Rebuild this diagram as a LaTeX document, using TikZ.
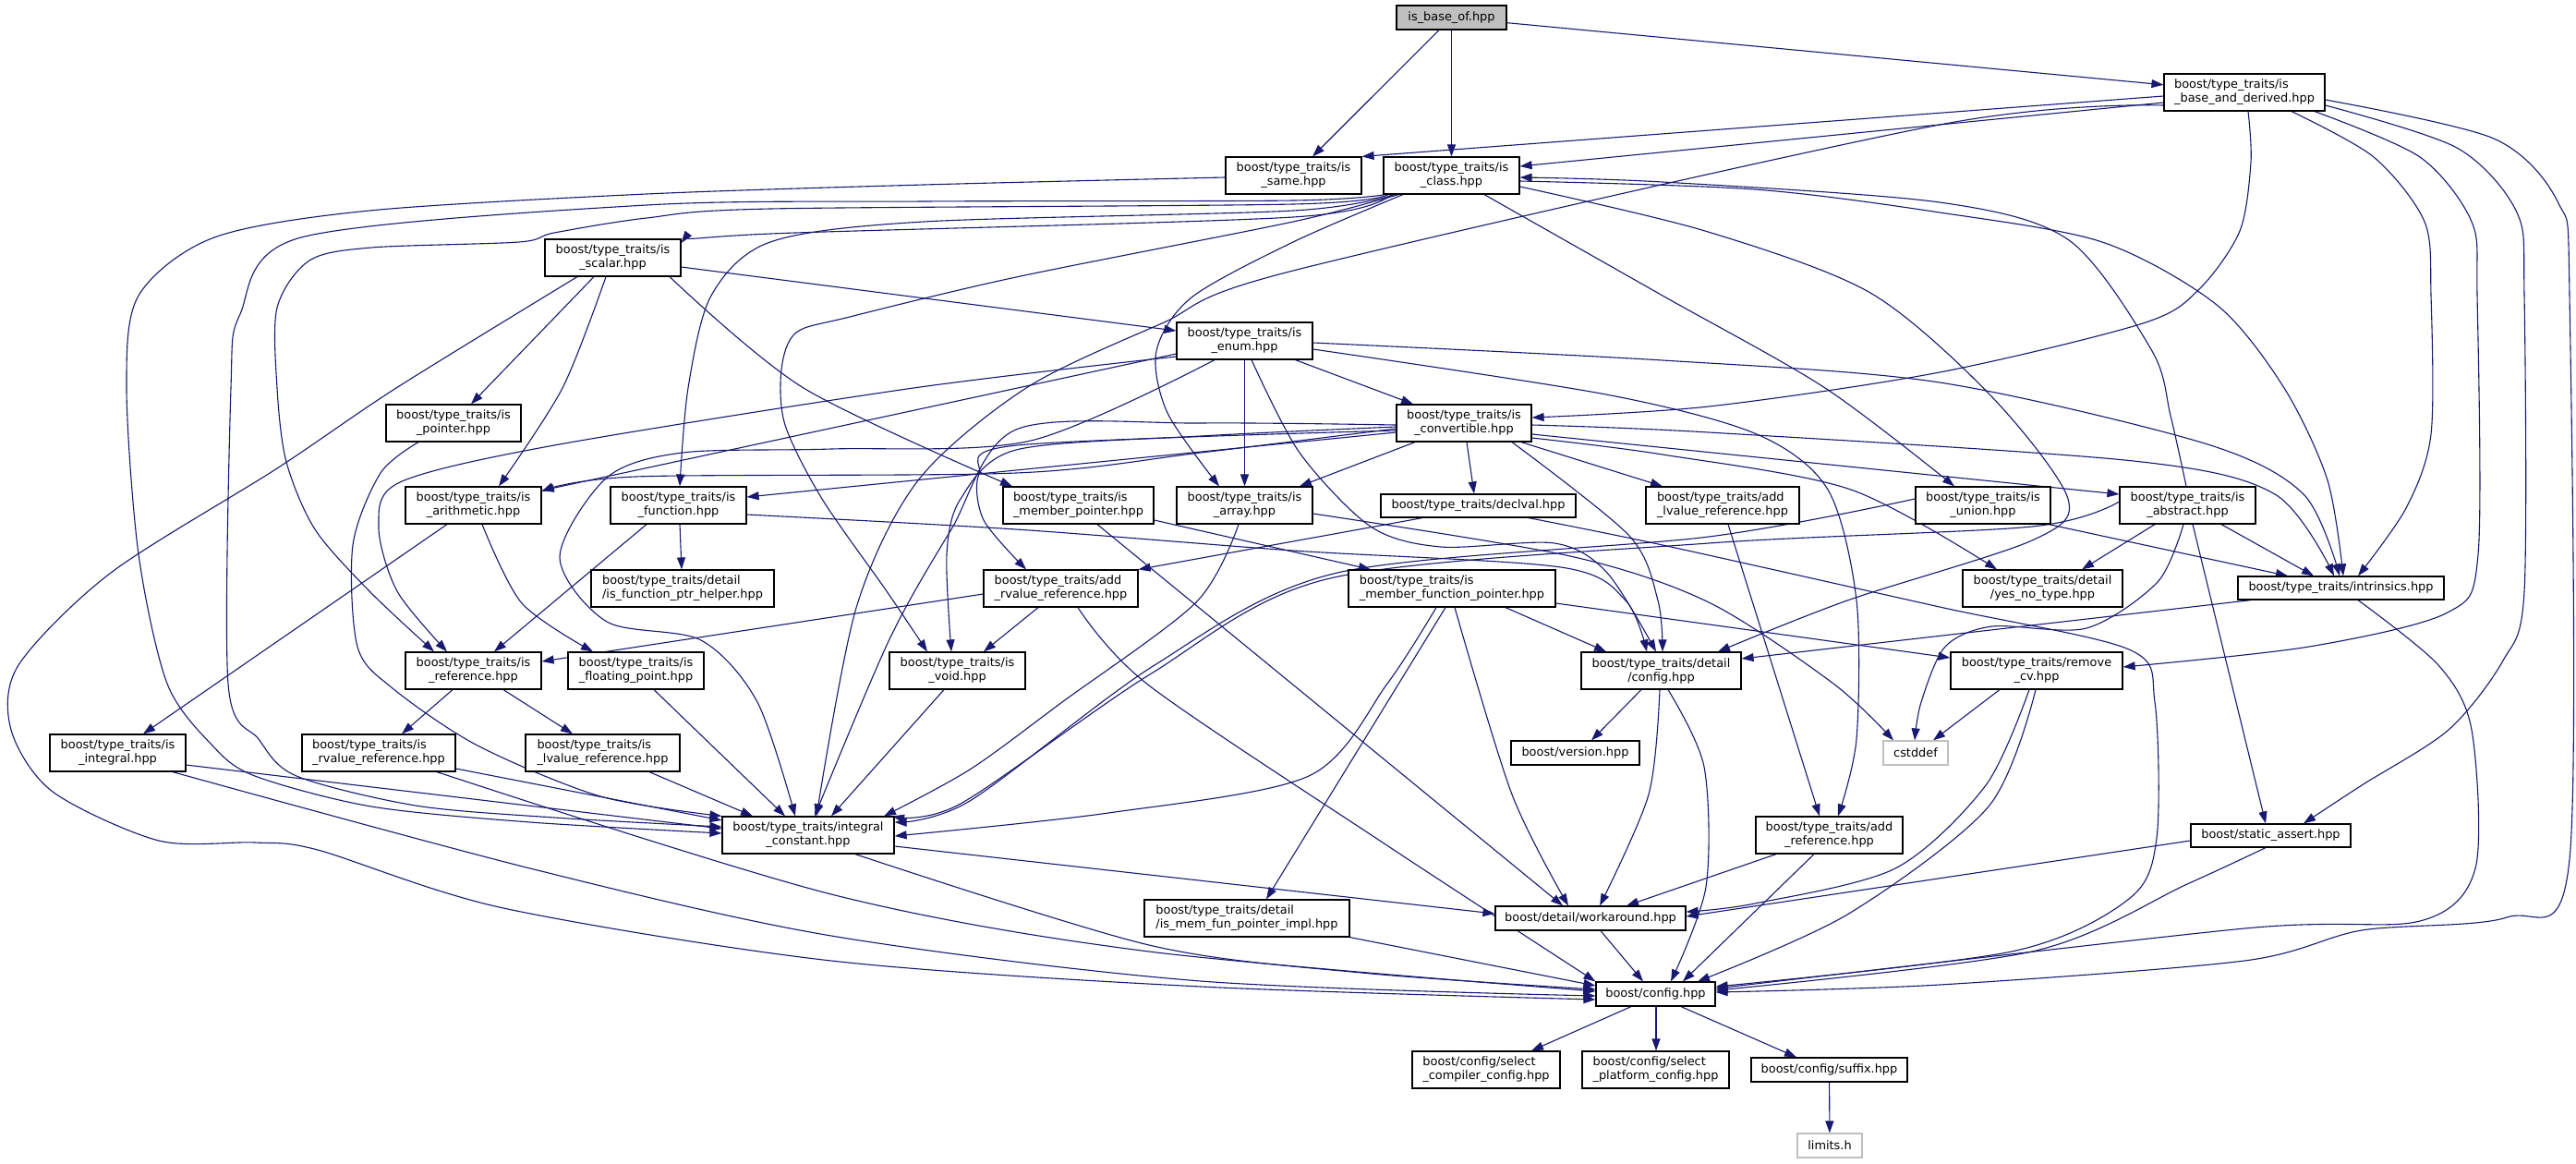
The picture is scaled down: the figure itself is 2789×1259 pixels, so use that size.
\documentclass[tikz,border=0pt]{standalone}
\usepackage{fontspec}
\setmainfont{DejaVu Sans}
\usetikzlibrary{arrows.meta}
\definecolor{edgecol}{HTML}{191970}
\definecolor{graybox}{HTML}{BFBFBF}
\newcommand\nfont{\fontsize{12.9}{15}\selectfont}
\pgfdeclarelayer{edgelayer}
\pgfsetlayers{edgelayer,main}
\tikzset{
  nbox/.style={draw=black, line width=1.2pt, fill=white, inner sep=0pt, font=\nfont, align=center, text=black},
  lbox/.style={nbox, align=left},
  twol/.style={minimum height=40pt},
  onel/.style={minimum height=26pt},
  edge/.style={draw=edgecol, line width=1.1pt, -{Triangle[length=13pt,width=9pt]}},
}
\begin{document}
\begin{tikzpicture}[x=1pt,y=-1pt]
\useasboundingbox (0,0) rectangle (2789,1259);
\begin{pgfonlayer}{edgelayer}
\fill[white] (0,0) rectangle (2789,1259);
\end{pgfonlayer}
% ---------- nodes ----------
\node[nbox,onel,fill=graybox,minimum width=119pt] (baseof) at (1571.5,19) {is\_base\_of.hpp};
\node[lbox,twol,minimum width=174pt] (bad) at (2430,100) {boost/type\_traits/is\\\_base\_and\_derived.hpp};
\node[nbox,twol,minimum width=147pt] (same) at (1400.5,190) {boost/type\_traits/is\\\_same.hpp};
\node[nbox,twol,minimum width=147pt] (class) at (1571.5,190) {boost/type\_traits/is\\\_class.hpp};
\node[nbox,twol,minimum width=147pt] (scalar) at (663.5,279) {boost/type\_traits/is\\\_scalar.hpp};
\node[nbox,twol,minimum width=147pt] (enum) at (1347.5,369) {boost/type\_traits/is\\\_enum.hpp};
\node[nbox,twol,minimum width=146pt] (pointer) at (491,458) {boost/type\_traits/is\\\_pointer.hpp};
\node[nbox,twol,minimum width=146pt] (conv) at (1585,458) {boost/type\_traits/is\\\_convertible.hpp};
\node[nbox,twol,minimum width=147pt] (arith) at (512.5,547) {boost/type\_traits/is\\\_arithmetic.hpp};
\node[nbox,twol,minimum width=147pt] (func) at (734.5,547) {boost/type\_traits/is\\\_function.hpp};
\node[lbox,twol,minimum width=163pt] (mptr) at (1167.5,547) {boost/type\_traits/is\\\_member\_pointer.hpp};
\node[nbox,twol,minimum width=147pt] (array) at (1347.5,547) {boost/type\_traits/is\\\_array.hpp};
\node[nbox,minimum height=25pt,minimum width=211pt] (declval) at (1600.5,547.5) {boost/type\_traits/declval.hpp};
\node[lbox,twol,minimum width=166pt] (addl) at (1865,547) {boost/type\_traits/add\\\_lvalue\_reference.hpp};
\node[nbox,twol,minimum width=146pt] (union) at (2147,547) {boost/type\_traits/is\\\_union.hpp};
\node[nbox,twol,minimum width=147pt] (abstract) at (2368.5,547) {boost/type\_traits/is\\\_abstract.hpp};
\node[lbox,twol,minimum width=198pt] (fph) at (739,637) {boost/type\_traits/detail\\/is\_function\_ptr\_helper.hpp};
\node[lbox,twol,minimum width=167pt] (addr) at (1148.5,637) {boost/type\_traits/add\\\_rvalue\_reference.hpp};
\node[lbox,twol,minimum width=224pt] (mfp) at (1572,637) {boost/type\_traits/is\\\_member\_function\_pointer.hpp};
\node[nbox,twol,minimum width=173pt] (yesno) at (2211.5,637) {boost/type\_traits/detail\\/yes\_no\_type.hpp};
\node[nbox,minimum height=25pt,minimum width=223pt] (intr) at (2534.5,636.5) {boost/type\_traits/intrinsics.hpp};
\node[nbox,twol,minimum width=147pt] (ref) at (512.5,726) {boost/type\_traits/is\\\_reference.hpp};
\node[nbox,twol,minimum width=147pt] (flt) at (688.5,726) {boost/type\_traits/is\\\_floating\_point.hpp};
\node[nbox,twol,minimum width=147pt] (void) at (1036.5,726) {boost/type\_traits/is\\\_void.hpp};
\node[nbox,twol,minimum width=173pt] (dconf) at (1798.5,726) {boost/type\_traits/detail\\/config.hpp};
\node[nbox,twol,minimum width=186pt] (rcv) at (2205,726) {boost/type\_traits/remove\\\_cv.hpp};
\node[nbox,twol,minimum width=147pt] (integ) at (127.5,815) {boost/type\_traits/is\\\_integral.hpp};
\node[lbox,twol,minimum width=166pt] (rref) at (410,815) {boost/type\_traits/is\\\_rvalue\_reference.hpp};
\node[lbox,twol,minimum width=167pt] (lref) at (652.5,815) {boost/type\_traits/is\\\_lvalue\_reference.hpp};
\node[nbox,onel,minimum width=139pt] (version) at (1705.5,815) {boost/version.hpp};
\node[nbox,onel,draw=graybox,minimum width=70pt] (cstddef) at (2074,815) {cstddef};
\node[nbox,twol,minimum width=186pt] (ic) at (875,904) {boost/type\_traits/integral\\\_constant.hpp};
\node[nbox,twol,minimum width=159pt] (addref) at (1980.5,904) {boost/type\_traits/add\\\_reference.hpp};
\node[nbox,minimum height=25pt,minimum width=173pt] (sa) at (2458.5,904.5) {boost/static\_assert.hpp};
\node[lbox,twol,minimum width=222pt] (mfpi) at (1350,994) {boost/type\_traits/detail\\/is\_mem\_fun\_pointer\_impl.hpp};
\node[nbox,onel,minimum width=206pt] (wa) at (1722,994) {boost/detail/workaround.hpp};
\node[nbox,onel,minimum width=129pt] (config) at (1792.5,1076) {boost/config.hpp};
\node[lbox,twol,minimum width=160pt] (selc) at (1609,1158) {boost/config/select\\\_compiler\_config.hpp};
\node[lbox,twol,minimum width=159pt] (selp) at (1792.5,1158) {boost/config/select\\\_platform\_config.hpp};
\node[nbox,onel,minimum width=169pt] (suffix) at (1980.5,1158) {boost/config/suffix.hpp};
\node[nbox,onel,draw=graybox,minimum width=70pt] (limits) at (1981,1240) {limits.h};
% ---------- edges ----------
\begin{pgfonlayer}{edgelayer}
% is_base_of
\draw[edge] (baseof) -- (same);
\draw[edge] (baseof) -- (class);
\draw[edge] (baseof) -- (bad);
% is_base_and_derived
\draw[edge] (bad.west |- 0,104) -- (same.north east);
\draw[edge] (bad.west |- 0,111) -- (class.east |- 0,180);
\draw[edge] plot[smooth,tension=0.5] coordinates {(bad.west |- 0,114) (2100,135) (1400,293) (1258,350) (1111,420) (994,520) (927,658) (ic.north -| 884,0)};
\draw[edge] plot[smooth,tension=0.5] coordinates {(bad.south -| 2434,0) (2437,175) (2425,250) (2381,313) (2320,350) (2100,403) (1850,440) (conv.east |- 0,452)};
\draw[edge] plot[smooth,tension=0.5] coordinates {(bad.south -| 2481,0) (2570,170) (2625,240) (2632,320) (2632,470) (2605,550) (intr.north -| 2553,0)};
\draw[edge] plot[smooth,tension=0.5] coordinates {(bad.south -| 2506,0) (2620,170) (2676,240) (2682,320) (2683,600) (2650,663) (2500,700) (rcv.east |- 0,722)};
\draw[edge] plot[smooth,tension=0.5] coordinates {(bad.east |- 0,114) (2660,160) (2725,230) (2733,320) (2733,640) (2710,715) (2651,790) (2557,850) (sa.north -| 2494,0)};
\draw[edge] plot[smooth,tension=0.5] coordinates {(bad.east |- 0,108) (2700,150) (2770,220) (2782,320) (2782,930) (2714,993) (2557,1007) (2430,1040) (2100,1066) (config.east |- 0,1074)};
% is_same
\draw[edge] plot[smooth,tension=0.5] coordinates {(same.west |- 0,192) (1000,200) (700,210) (400,228) (232,257) (150,320) (137,420) (150,600) (181,740) (230,807) (276,840) (402,873) (574,890) (ic.west |- 0,902)};
% is_class
\draw[edge] plot[smooth,tension=0.5] coordinates {(class.south -| 1500,0) (1400,217) (1000,218) (700,222) (326,257) (260,340) (250,420) (247,740) (280,800) (321,840) (450,872) (600,885) (ic.west |- 0,895)};
\draw[edge] plot[smooth,tension=0.5] coordinates {(class.south -| 1503,0) (1400,221) (834,226) (700,236) (600,252) (562,262) (402,268) (335,282) (300,333) (300,420) (310,500) (341,573) (400,640) (ref.north -| 470,0)};
\draw[edge] plot[smooth,tension=0.5] coordinates {(class.south -| 1506,0) (1400,235) (834,253) (scalar.east |- 0,263)};
\draw[edge] plot[smooth,tension=0.5] coordinates {(class.south -| 1510,0) (1400,228) (1000,240) (834,262) (770,320) (745,420) (func.north -| 736,0)};
\draw[edge] plot[smooth,tension=0.5] coordinates {(class.south -| 1514,0) (1400,240) (1100,300) (920,343) (862,360) (846,400) (850,460) (890,540) (960,640) (void.north -| 1004,0)};
\draw[edge] plot[smooth,tension=0.5] coordinates {(class.south -| 1519,0) (1400,262) (1290,322) (1252,380) (1264,447) (array.north -| 1320,0)};
\draw[edge] plot[smooth,tension=0.5] coordinates {(class.south -| 1607,0) (1800,320) (1976,420) (union.north -| 2116,0)};
\draw[edge] plot[smooth,tension=0.5] coordinates {(class.east |- 0,202) (1846,250) (2025,317) (2157,430) (2239,540) (2200,585) (2000,650) (dconf.north -| 1860,0)};
\draw[edge] plot[smooth,tension=0.5] coordinates {(class.east |- 0,196) (1900,205) (2100,230) (2276,262) (2400,330) (2473,420) (2520,520) (intr.north -| 2537,0)};
% is_scalar
\draw[edge] plot[smooth,tension=0.5] coordinates {(scalar.south -| 656,0) (609,420) (arith.north -| 540,0)};
\draw[edge] (scalar.south -| 643,0) -- (pointer.north -| 510,0);
\draw[edge] (scalar.east |- 0,289) -- (enum.west |- 0,358);
\draw[edge] plot[smooth,tension=0.5] coordinates {(scalar.south -| 725,0) (870,420) (mptr.north -| 1096,0)};
\draw[edge] plot[smooth,tension=0.5] coordinates {(scalar.south -| 625,0) (429,420) (300,507) (120,620) (20,720) (12,790) (57,857) (172,910) (276,912) (344,920) (545,983) (900,1040) (1300,1068) (config.west |- 0,1082)};
% is_enum
\draw[edge] (enum.west |- 0,383) -- (arith.east |- 0,531);
\draw[edge] plot[smooth,tension=0.5] coordinates {(enum.west |- 0,386) (989,420) (600,482) (433,522) (410,570) (430,640) (ref.north -| 484,0)};
\draw[edge] (enum) -- (conv);
\draw[edge] (enum) -- (array);
\draw[edge] plot[smooth,tension=0.5] coordinates {(enum.east |- 0,378) (1739,427) (1902,470) (1979,530) (2010,650) (2010,800) (addref.north -| 1990,0)};
\draw[edge] plot[smooth,tension=0.5] coordinates {(enum.south -| 1355,0) (1407,490) (1484,570) (1560,592) (1683,588) (1740,620) (dconf.north -| 1793,0)};
\draw[edge] plot[smooth,tension=0.5] coordinates {(enum.east |- 0,371) (1800,390) (2100,414) (2387,480) (2494,535) (intr.north -| 2533,0)};
\draw[edge] plot[smooth,tension=0.5] coordinates {(enum.south -| 1315,0) (1116,477) (900,486) (739,490) (657,517) (606,603) (657,673) (759,693) (820,760) (ic.north -| 861,0)};
% is_convertible
\draw[edge] plot[smooth,tension=0.5] coordinates {(conv.east |- 0,460) (1850,468) (2310,499) (2463,535) (intr.north -| 2527,0)};
\draw[edge] (conv.east |- 0,470) -- (abstract.west |- 0,535);
\draw[edge] plot[smooth,tension=0.5] coordinates {(conv.east |- 0,474) (1800,492) (2004,530) (yesno.north -| 2162,0)};
\draw[edge] (conv.south -| 1647,0) -- (addl.north -| 1800,0);
\draw[edge] plot[smooth,tension=0.5] coordinates {(conv.south -| 1637,0) (1764,580) (1795,650) (dconf.north -| 1800,0)};
\draw[edge] (conv.south -| 1588,0) -- (declval.north -| 1596,0);
\draw[edge] (conv.south -| 1532,0) -- (array.north -| 1407,0);
\draw[edge] plot[smooth,tension=0.5] coordinates {(conv.west |- 0,462) (1300,472) (1100,487) (1040,540) (1025,600) (void.north -| 1030,0)};
\draw[edge] plot[smooth,tension=0.5] coordinates {(conv.west |- 0,466) (1101,482) (1060,513) (1065,563) (addr.north -| 1111,0)};
\draw[edge] (conv.west |- 0,468) -- (func.east |- 0,538);
\draw[edge] plot[smooth,tension=0.5] coordinates {(conv.west |- 0,464) (1300,490) (1100,512) (688,516) (arith.east |- 0,532)};
\draw[edge] plot[smooth,tension=0.5] coordinates {(conv.west |- 0,460) (1300,458) (1100,465) (1030,573) (963,692) (ic.north -| 882,0)};
% is_pointer
\draw[edge] plot[smooth,tension=0.5] coordinates {(pointer.south -| 453,0) (412,512) (382,590) (387,700) (425,745) (517,807) (650,862) (ic.north west)};
% is_arithmetic
\draw[edge] (arith.south -| 484,0) -- (integ.north -| 155,0);
\draw[edge] plot[smooth,tension=0.5] coordinates {(arith.south -| 522,0) (565,653) (flt.north -| 642,0)};
% is_function
\draw[edge] (func.south -| 700,0) -- (ref.north -| 535,0);
\draw[edge] (func.south -| 736,0) -- (fph.north -| 738,0);
\draw[edge] plot[smooth,tension=0.5] coordinates {(func.east |- 0,557) (1100,573) (1400,596) (1690,614) (1760,650) (dconf.north -| 1783,0)};
% is_member_pointer
\draw[edge] (mptr.south -| 1188,0) -- (wa.north -| 1692,0);
\draw[edge] (mptr.east |- 0,563) -- (mfp.north -| 1484,0);
% is_array
\draw[edge] plot[smooth,tension=0.5] coordinates {(array.south -| 1341,0) (1295,652) (1150,760) (1050,833) (ic.north -| 957,0)};
\draw[edge] plot[smooth,tension=0.5] coordinates {(array.east |- 0,556) (1700,602) (1850,652) (1985,740) (cstddef.north -| 2050,0)};
% declval
\draw[edge] (declval.south -| 1540,0) -- (addr.north east);
\draw[edge] plot[smooth,tension=0.5] coordinates {(declval.south -| 1655,0) (1800,590) (2100,657) (2305,703) (2333,760) (2335,907) (2305,973) (2178,1030) (config.east |- 0,1068)};
% add_lvalue_reference
\draw[edge] (addl.south -| 1871,0) -- (addref.north -| 1970,0);
% is_union
\draw[edge] (union.south -| 2218,0) -- (intr.north -| 2477,0);
\draw[edge] plot[smooth,tension=0.5] coordinates {(union.west |- 0,540) (1850,581) (1448,620) (1250,720) (1050,867) (ic.east |- 0,890)};
% is_abstract
\draw[edge] plot[smooth,tension=0.5] coordinates {(abstract.north -| 2367,0) (2350,450) (2330,380) (2240,260) (2100,219) (1800,197) (class.east |- 0,192)};
\draw[edge] plot[smooth,tension=0.5] coordinates {(abstract.west |- 0,543) (2200,570) (1850,588) (1440,626) (1245,730) (1040,870) (ic.north -| 966,0)};
\draw[edge] (abstract.south -| 2333,0) -- (yesno.north -| 2254,0);
\draw[edge] (abstract.south -| 2405,0) -- (intr.north -| 2505,0);
\draw[edge] (abstract.south -| 2374,0) -- (sa.north -| 2453,0);
\draw[edge] plot[smooth,tension=0.5] coordinates {(abstract.south -| 2364,0) (2336,630) (2259,680) (2157,678) (2106,700) (2080,760) (cstddef.north -| 2073,0)};
% is_member_function_pointer
\draw[edge] (mfp.south -| 1630,0) -- (dconf.north -| 1739,0);
\draw[edge] (mfp.east |- 0,653) -- (rcv.west |- 0,712);
\draw[edge] plot[smooth,tension=0.5] coordinates {(mfp.south -| 1575,0) (1637,860) (wa.north -| 1698,0)};
\draw[edge] (mfp.south -| 1565,0) -- (mfpi.north -| 1371,0);
\draw[edge] plot[smooth,tension=0.5] coordinates {(mfp.south -| 1555,0) (1502,740) (1417,840) (1200,880) (ic.east |- 0,905)};
% add_rvalue_reference
\draw[edge] (addr.south -| 1124,0) -- (void.north -| 1065,0);
\draw[edge] (addr.west |- 0,643) -- (ref.east |- 0,716);
\draw[edge] plot[smooth,tension=0.5] coordinates {(addr.south -| 1167,0) (1244,742) (1500,914) (config.north west)};
% intrinsics
\draw[edge] (intr.south -| 2437,0) -- (dconf.east |- 0,713);
\draw[edge] plot[smooth,tension=0.5] coordinates {(intr.south -| 2553,0) (2640,720) (2676,790) (2680,940) (2620,997) (2430,1005) (config.east |- 0,1070)};
% is_reference
\draw[edge] (ref.south -| 490,0) -- (rref.north -| 435,0);
\draw[edge] (ref.south -| 545,0) -- (lref.north -| 620,0);
% floating point, void
\draw[edge] (flt.south -| 708,0) -- (ic.north -| 850,0);
\draw[edge] (void.south -| 1022,0) -- (ic.north -| 900,0);
% detail/config
\draw[edge] (dconf.south -| 1777,0) -- (version.north -| 1723,0);
\draw[edge] plot[smooth,tension=0.5] coordinates {(dconf.south -| 1797,0) (1785,860) (wa.north -| 1732,0)};
\draw[edge] plot[smooth,tension=0.5] coordinates {(dconf.south -| 1806,0) (1845,830) (1847,960) (config.north -| 1809,0)};
% remove_cv
\draw[edge] (rcv.south -| 2165,0) -- (cstddef.north -| 2093,0);
\draw[edge] plot[smooth,tension=0.5] coordinates {(rcv.south -| 2197,0) (2150,850) (2052,940) (1900,978) (wa.east |- 0,987)};
\draw[edge] plot[smooth,tension=0.5] coordinates {(rcv.south -| 2204,0) (2153,873) (2000,990) (config.north -| 1838,0)};
% is_integral, rvalue, lvalue
\draw[edge] plot[smooth,tension=0.5] coordinates {(integ.south -| 187,0) (574,940) (900,1013) (1300,1062) (config.west |- 0,1078)};
\draw[edge] (integ.east |- 0,828) -- (ic.west |- 0,897);
\draw[edge] (rref.east |- 0,832) -- (ic.west |- 0,888);
\draw[edge] plot[smooth,tension=0.5] coordinates {(rref.south -| 473,0) (900,968) (1244,1030) (config.west |- 0,1073)};
\draw[edge] (lref.south -| 703,0) -- (ic.north -| 815,0);
% integral_constant
\draw[edge] (ic.east |- 0,916) -- (wa.west |- 0,989);
\draw[edge] plot[smooth,tension=0.5] coordinates {(ic.south -| 926,0) (1244,1023) (1474,1053) (config.west |- 0,1071)};
% add_reference
\draw[edge] (addref.south -| 1923,0) -- (wa.north -| 1761,0);
\draw[edge] (addref.south -| 1964,0) -- (config.north -| 1822,0);
% static_assert
\draw[edge] (sa.west |- 0,910) -- (wa.east |- 0,992);
\draw[edge] plot[smooth,tension=0.5] coordinates {(sa.south -| 2453,0) (2368,957) (2200,1030) (config.east |- 0,1072)};
% mem_fun_pointer_impl, workaround
\draw[edge] (mfpi.south east) -- (config.west |- 0,1067);
\draw[edge] (wa.south -| 1733,0) -- (config.north -| 1779,0);
% config
\draw[edge] (config.south -| 1766,0) -- (selc.north -| 1658,0);
\draw[edge] (config.south -| 1793,0) -- (selp.north -| 1793,0);
\draw[edge] (config.south -| 1820,0) -- (suffix.north -| 1945,0);
\draw[edge] (suffix) -- (limits);
\end{pgfonlayer}
\end{tikzpicture}
\end{document}
